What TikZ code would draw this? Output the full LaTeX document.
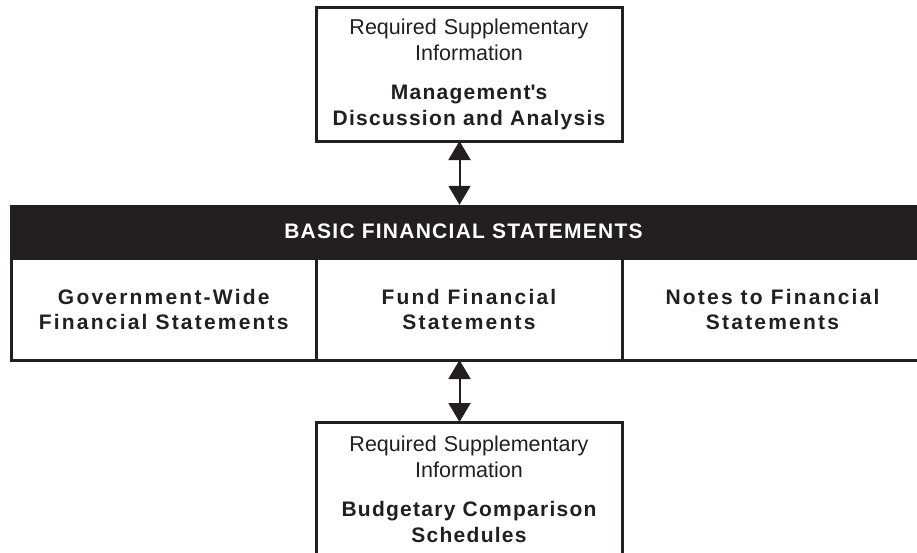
\documentclass[tikz,border=0pt]{standalone}
\usepackage{fontspec}
\setmainfont{Liberation Sans}
\newfontfamily\spacedbold[LetterSpace=6]{Liberation Sans}
\newfontfamily\widebold[LetterSpace=10.5]{Liberation Sans}
\usetikzlibrary{arrows.meta}
\usetikzlibrary{positioning}

\definecolor{inkblack}{HTML}{231F20}

\tikzset{
    panel/.style={draw=inkblack, line width=3pt, inner sep=0pt, outer sep=0pt,
        align=center, text=inkblack, font=\fontsize{21.5}{26}\selectfont},
    headline/.style={font={\spacedbold\bfseries\fontsize{21}{26}\selectfont}},
    partline/.style={font={\widebold\bfseries\fontsize{21}{25}\selectfont}},
    twoway/.style={{Triangle[width=22pt,length=19pt]}-{Triangle[width=22pt,length=19pt]},
        line width=2pt, draw=inkblack},
}

\begin{document}
\begin{tikzpicture}[x=1pt, y=-1pt]
        \useasboundingbox (0, 0) rectangle (917, 552);
        \clip (0, 0) rectangle (917, 552);

        % supplementary information above and below
        \node[panel, minimum width=306pt, minimum height=134pt, text width=300pt] (mda) at (469, 74)
            {Required Supplementary\\Information\\[13pt]{\spacedbold\bfseries\fontsize{21}{26}\selectfont Management\textquotesingle s\\Discussion and Analysis}};
        \node[panel, minimum width=306pt, minimum height=134pt, text width=300pt] (bcs) at (469, 489)
            {Required Supplementary\\Information\\[13pt]{\spacedbold\bfseries\fontsize{21}{26}\selectfont Budgetary Comparison\\Schedules}};

        % the three parts of the basic statements
        \node[panel, partline, minimum width=304.5pt, minimum height=102pt] (gov) at (163.75, 309)
            {Government-Wide\\Financial Statements};
        \node[panel, partline, minimum width=306pt, minimum height=102pt, right=0pt of gov] (fund)
            {Fund Financial\\Statements};
        \node[panel, partline, minimum width=301pt, minimum height=102pt, right=0pt of fund] (notes)
            {Notes to Financial\\Statements};

        \node[fill=inkblack, text=white, headline,
            minimum width=907pt, minimum height=53pt, inner sep=0pt] (bar) at (463.5, 231.5)
            {BASIC FINANCIAL STATEMENTS};

        \draw[twoway] ([xshift=-9.5pt]mda.south) -- ([xshift=-9.5pt]mda.south |- bar.north);
        \draw[twoway] ([xshift=-9.5pt]fund.south) -- ([xshift=-9.5pt]bcs.north);
    \end{tikzpicture}
\end{document}
